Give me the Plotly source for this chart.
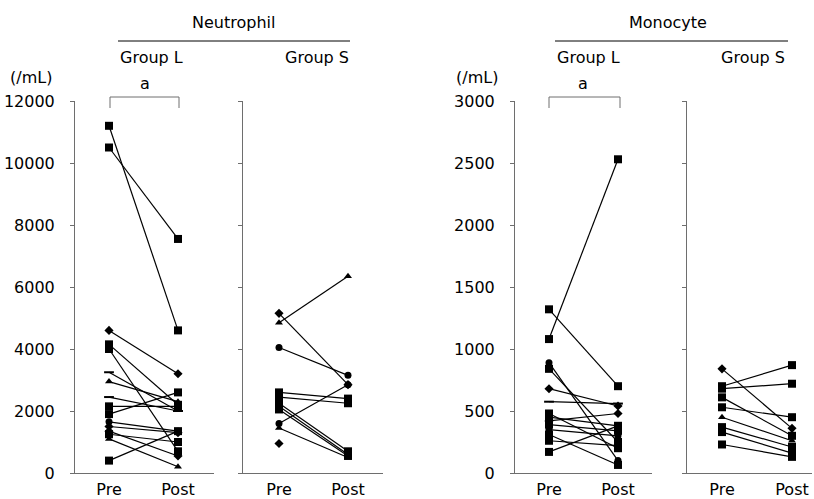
import plotly.graph_objects as go

# ---------------- data ----------------
timepoints = ["Pre", "Post"]

neut_L_pre = [11200, 10500, 4600, 4150, 4000, 3250, 2950, 2450, 2150, 1900, 1650, 1500, 1350, 1250, 1100, 400]
neut_L_post = [4600, 7550, 3200, 2200, 700, 2000, 2300, 2000, 2150, 2600, 1350, 1300, 550, 1000, 200, 1350]

neut_S_pre = [5150, 4850, 4050, 2600, 2450, 2250, 2150, 2050, 1600, 1450, 950]
neut_S_post = [2850, 6350, 3150, 2400, 2250, 700, 600, 550, 2850, 500, None]

mono_L_pre = [1320, 1080, 890, 840, 680, 575, 480, 450, 420, 390, 350, 310, 260, 170]
mono_L_post = [700, 2530, 100, 250, 540, 560, 200, 380, 480, 340, 300, 65, 220, 380]

mono_S_pre = [840, 700, 680, 610, 530, 450, 370, 330, 230]
mono_S_post = [360, 870, 720, 300, 450, 260, 210, 160, 130]

neut_ticks = [0, 2000, 4000, 6000, 8000, 10000, 12000]
mono_ticks = [0, 500, 1000, 1500, 2000, 2500, 3000]

# ---------------- styles ----------------
sym_NL = ["square", "square", "diamond", "square", "square", "line-ew", "triangle-up", "line-ew",
          "square", "square", "circle", "diamond", "diamond", "square", "triangle-up", "square"]
sym_NS = ["diamond", "triangle-up", "circle", "square", "square", "square", "square", "square",
          "circle", "triangle-up", "diamond"]
sym_ML = ["square", "square", "circle", "square", "diamond", "line-ew", "square", "square",
          "diamond", "square", "circle", "square", "square", "square"]
sym_MS = ["diamond", "square", "square", "square", "square", "triangle-up", "square", "square", "square"]

W, H = 814, 499


def fx(px):
    return px / W


def fy(py):
    return 1 - py / H


fig = go.Figure()

panels = [
    (neut_L_pre, neut_L_post, sym_NL, "x", "y"),
    (neut_S_pre, neut_S_post, sym_NS, "x2", "y2"),
    (mono_L_pre, mono_L_post, sym_ML, "x3", "y3"),
    (mono_S_pre, mono_S_post, sym_MS, "x4", "y4"),
]

for pre, post, syms, xa, ya in panels:
    for a, b, s in zip(pre, post, syms):
        size = 8 if s == "square" else 7
        fig.add_trace(go.Scatter(
            x=timepoints, y=[a, b], xaxis=xa, yaxis=ya,
            mode="lines+markers",
            line=dict(color="black", width=1.2),
            marker=dict(symbol=s, size=size, color="black",
                        line=dict(color="black", width=2 if s == "line-ew" else 0)),
            showlegend=False, hoverinfo="y",
        ))

ydom = [fy(473), fy(101)]
font = dict(family="DejaVu Sans", size=16, color="black")
axcol = "#6e6e6e"


def xaxis(px0, px1, pre_px, post_px):
    unit = post_px - pre_px
    return dict(
        domain=[fx(px0), fx(px1)], type="category", categoryorder="array",
        categoryarray=timepoints, automargin=False,
        range=[-(pre_px - px0) / unit, 1 + (px1 - post_px) / unit],
        showline=True, linecolor=axcol, linewidth=1, ticks="", showgrid=False,
        zeroline=False, tickfont=font, ticklabelstandoff=2,
    )


def yaxis(anchor, rng, ticks, labels=True):
    return dict(
        domain=ydom, anchor=anchor, range=rng, tickvals=ticks,
        ticktext=[str(t) for t in ticks], automargin=False,
        showline=True, linecolor=axcol, linewidth=1, ticks="outside",
        ticklen=4, tickcolor=axcol, showgrid=False, zeroline=False,
        showticklabels=labels, tickfont=font, ticklabelstandoff=12,
    )


fig.update_layout(
    width=W, height=H, margin=dict(l=0, r=0, t=0, b=0, autoexpand=False),
    paper_bgcolor="white", plot_bgcolor="white",
    xaxis=dict(xaxis(75, 214, 109, 178), anchor="y"),
    xaxis2=dict(xaxis(243, 383, 279, 348), anchor="y2"),
    xaxis3=dict(xaxis(515, 652, 549, 618), anchor="y3"),
    xaxis4=dict(xaxis(687, 812, 722, 792), anchor="y4"),
    yaxis=yaxis("x", [0, 12000], neut_ticks),
    yaxis2=yaxis("x2", [0, 12000], neut_ticks, labels=False),
    yaxis3=yaxis("x3", [0, 3000], mono_ticks),
    yaxis4=yaxis("x4", [0, 3000], mono_ticks, labels=False),
    font=font,
)

texts = [
    ("Neutrophil", 233, 22),
    ("Group L", 151, 57),
    ("Group S", 317, 57),
    ("(/mL)", 31, 78),
    ("a", 145, 84),
    ("Monocyte", 668, 22),
    ("Group L", 588, 57),
    ("Group S", 753, 57),
    ("(/mL)", 477, 78),
    ("a", 583, 84),
]
for t, px, py in texts:
    fig.add_annotation(text=t, x=fx(px), y=fy(py), xref="paper", yref="paper",
                       showarrow=False, xanchor="center", yanchor="middle", font=font)

# header rules
for x0, x1 in [(118, 350), (555, 788)]:
    fig.add_shape(type="line", xref="paper", yref="paper",
                  x0=fx(x0), x1=fx(x1), y0=fy(41), y1=fy(41),
                  line=dict(color="black", width=1))

# significance brackets
for x0, x1 in [(110, 179), (549, 620)]:
    path = (f"M {fx(x0)} {fy(108)} L {fx(x0)} {fy(97)} "
            f"L {fx(x1)} {fy(97)} L {fx(x1)} {fy(108)}")
    fig.add_shape(type="path", xref="paper", yref="paper", path=path,
                  line=dict(color=axcol, width=1))

fig.write_html("out.html",
               config={"displayModeBar": False},
               post_script="document.body.style.margin='0';"
                           "document.body.style.overflow='hidden';")
